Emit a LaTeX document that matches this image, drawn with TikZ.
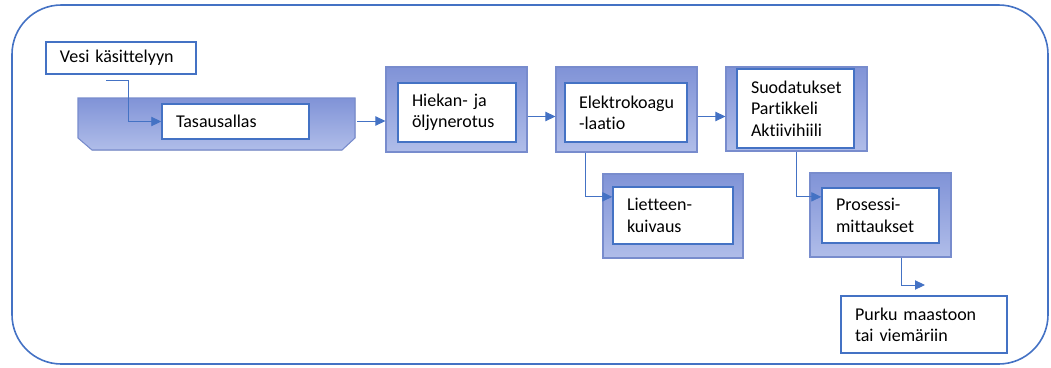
\documentclass[tikz,border=0pt]{standalone}
\usepackage{fontspec}
\setmainfont[Ligatures=NoCommon]{Carlito}
\usetikzlibrary{arrows.meta}

\definecolor{lineblue}{RGB}{68,114,196}
\definecolor{frametop}{RGB}{128,147,215}
\definecolor{framebot}{RGB}{176,189,233}
\definecolor{frameedge}{RGB}{120,140,205}

\hyphenpenalty=10000
\exhyphenpenalty=10000

\tikzset{
    frame/.style={draw=frameedge,line width=0.8pt,top color=frametop,bottom color=framebot},
    stepbox/.style={draw=lineblue,line width=1.1pt,fill=white,align=left,inner xsep=10.5pt,
        font=\fontsize{13.5}{16}\selectfont},
    flow/.style={draw=lineblue,line width=0.7pt,-{Triangle[length=7.5pt,width=7pt]}}
}

\begin{document}
\begin{tikzpicture}[x=0.75pt,y=-0.75pt]
        \useasboundingbox (0,0) rectangle (1051,368);
        \draw[lineblue,line width=1.2pt,rounded corners=37pt] (12,5) rectangle (1048,364);

        % basin
        \fill[frame] (78,98) -- (355,98) -- (355,138) -- (342,150) -- (92,150) -- (78,138) -- cycle;
        \coordinate (basinE) at (357,121);

        \node[stepbox,minimum height=24pt,text width=91.5pt] (vesi) at (121,58) {Vesi käsittelyyn};
        \coordinate (vesiOut) at (106,80);
        \node[stepbox,minimum height=26pt,text width=89.25pt] (tasaus) at (235.5,121.5) {Tasausallas};

        \node[frame,minimum width=105.75pt,minimum height=63.75pt] (hiekanBg) at (456.5,109.5) {};
        \node[stepbox,minimum height=44pt,text width=67.5pt] (hiekan) at (457,112.5) {Hiekan- ja\\öljynerotus};

        \node[frame,minimum width=105.75pt,minimum height=63.75pt] (elektroBg) at (626.5,109.5) {};
        \node[stepbox,minimum height=44pt,text width=70.5pt] (elektro) at (626,112.5) {Elektrokoagu\\-laatio};

        \node[frame,minimum width=105.75pt,minimum height=63pt] (suodBg) at (796.5,109) {};
        \node[stepbox,minimum height=59pt,text width=66.75pt] (suod) at (795.5,108.5) {Suodatukset\\Partikkeli\\Aktiivihiili};

        \node[frame,minimum width=105pt,minimum height=63pt] (lietBg) at (673,216) {};
        \node[stepbox,minimum height=43pt,text width=69pt] (liet) at (673,215.5) {Lietteen-\\kuivaus};

        \node[frame,minimum width=105.75pt,minimum height=63pt] (prosBg) at (880.5,215) {};
        \node[stepbox,minimum height=41pt,text width=66.75pt] (pros) at (880.5,215.5) {Prosessi-\\mittaukset};

        \node[stepbox,minimum height=43pt,text width=103.5pt] (purku) at (924,324.5) {Purku maastoon\\tai viemäriin};
        \coordinate (purkuIn) at (925,285);

        \draw[flow] (vesiOut) -- ++(22,0) |- (tasaus.west);
        \draw[flow] (basinE) -- (basinE -| hiekanBg.west);
        \draw[flow] ([yshift=-3pt]hiekan.east -| hiekanBg.east) -- ([yshift=-3pt]hiekan.east -| elektroBg.west);
        \draw[flow] ([yshift=-3pt]elektro.east -| elektroBg.east) -- ([yshift=-3pt]elektro.east -| suodBg.west);
        \draw[flow] ([xshift=22.5pt]elektroBg.south west) |- ([yshift=14pt]liet.west);
        \draw[flow] (suodBg.south) |- ([yshift=14pt]pros.west);
        \draw[flow] ([xshift=15.4pt]prosBg.south) |- (purkuIn);
    \end{tikzpicture}
\end{document}
